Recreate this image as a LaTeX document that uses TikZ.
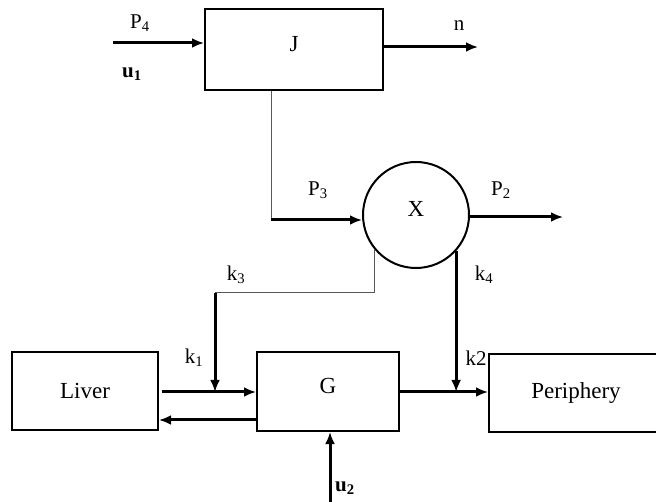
\documentclass[tikz,border=0pt]{standalone}
\usepackage{fontspec}
\setmainfont{Liberation Serif}
\usetikzlibrary{arrows.meta}

\begin{document}
\begin{tikzpicture}[x=1pt,y=-1pt,
  every node/.style={font=\fontsize{21}{25}\selectfont,inner sep=0pt},
  block/.style={draw,line width=2pt,font=\fontsize{23}{27}\selectfont},
  raised/.style={text depth=12pt},
  flow/.style={line width=3pt,-{Latex[length=12pt,width=10pt]}},
  link/.style={line width=1pt,gray!70!black}]
  \useasboundingbox (0,0) rectangle (656,502);

  % blocks
  \node[block,raised,minimum width=178pt,minimum height=81pt] (J) at (294,49.5) {J};
  \node[block,raised,circle,minimum size=106pt] (X) at (416,215) {X};
  \node[block,minimum width=146pt,minimum height=78pt] (liver) at (85,391) {Liver};
  \node[block,raised,minimum width=142pt,minimum height=79pt] (G) at (328,391.5) {G};
  \node[block,minimum width=174pt,minimum height=78pt] (periph) at (576,393) {Periphery};

  % free ends
  \coordinate (u1in) at (113,43);
  \coordinate (nout) at (478,47);
  \coordinate (p3) at (271,220);
  \coordinate (p2out) at (563,217);
  \coordinate (k3) at (215,293);
  \coordinate (lg) at (162,392);
  \coordinate (gl) at (257,420);
  \coordinate (u2in) at (330,502);

  % flows
  \draw[flow] (u1in) -- (u1in -| J.west);
  \draw[flow] (J.east |- nout) -- (nout);
  \draw[link] (J.south -| p3) -- (p3);
  \draw[flow] (p3) -- (p3 -| X.west);
  \draw[flow] (X.east |- p2out) -- (p2out);
  \draw[link] (X.220) |- (k3);
  \draw[flow] (k3) -- (k3 |- lg);
  \draw[flow] (X.-42) -- (X.-42 |- lg);
  \draw[flow] (lg) -- (lg -| G.west);
  \draw[flow] (G.west |- gl) -- (liver.east |- gl);
  \draw[flow] (G.east |- lg) -- (periph.west |- lg);
  \draw[flow] (u2in) -- (u2in |- G.south);

  % labels
  \node (P4) at (140,23) {P\textsubscript{4}};
  \node (u1) at (132,74) {\textbf{u\textsubscript{1}}};
  \node (n) at (459,26) {n};
  \node (P3) at (318,190) {P\textsubscript{3}};
  \node (P2) at (501,190) {P\textsubscript{2}};
  \node (k3l) at (236,275) {k\textsubscript{3}};
  \node (k4l) at (484,275) {k\textsubscript{4}};
  \node (k1l) at (194,358) {k\textsubscript{1}};
  \node (k2l) at (476,358) {k2};
  \node (u2) at (345,488) {\textbf{u\textsubscript{2}}};
\end{tikzpicture}
\end{document}
